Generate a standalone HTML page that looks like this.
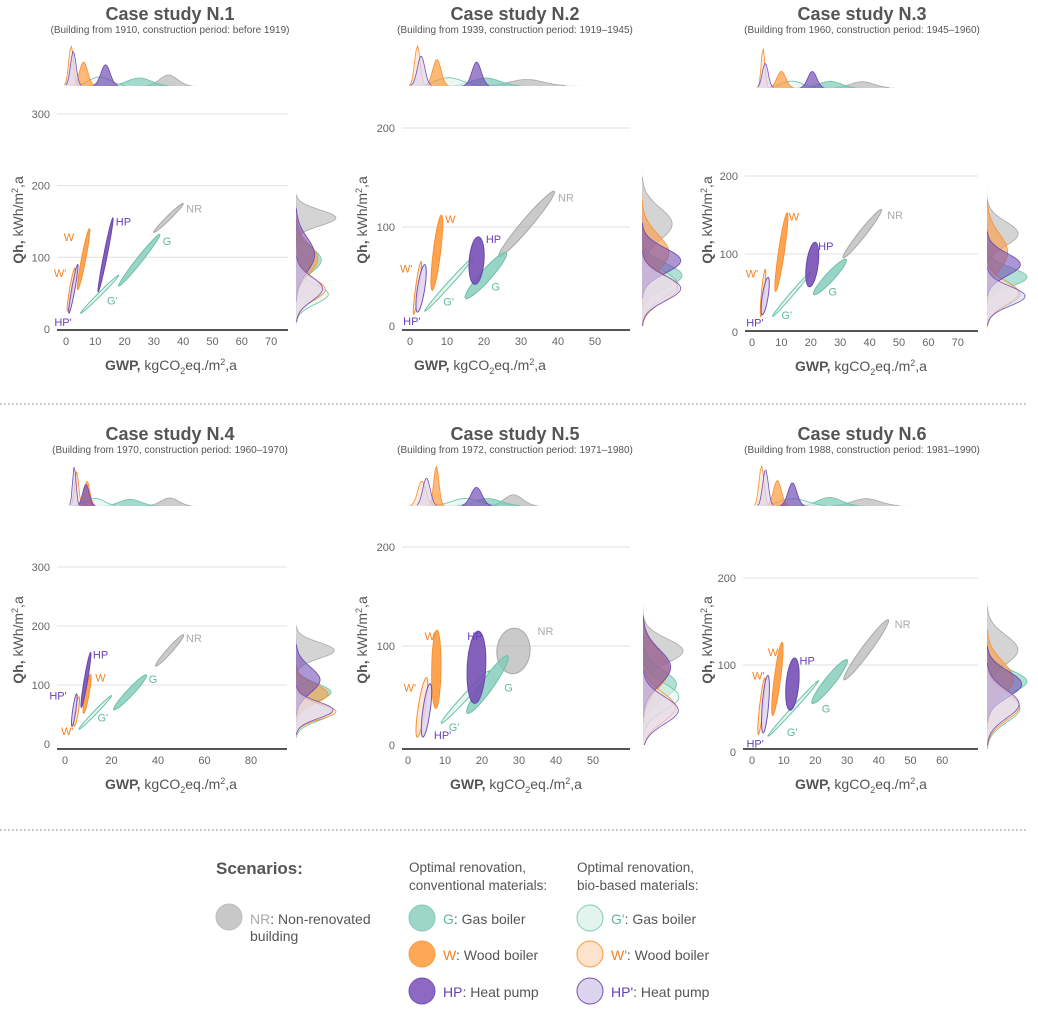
<!DOCTYPE html>
<html><head><meta charset="utf-8"><style>
html,body{margin:0;padding:0;background:#fff;}
svg{display:block;font-family:"Liberation Sans",Arial,sans-serif;}
</style></head><body>
<svg id="fig" width="1038" height="1010" viewBox="0 0 1038 1010" xmlns="http://www.w3.org/2000/svg">
<line x1="0" y1="404" x2="1028" y2="404" stroke="#999" stroke-width="1.2" stroke-dasharray="1.5,2.5"/>
<line x1="0" y1="830" x2="1028" y2="830" stroke="#999" stroke-width="1.2" stroke-dasharray="1.5,2.5"/>
<g>
<text x="216" y="874" font-size="17" font-weight="bold" fill="#555">Scenarios:</text>
<text x="409" y="872" font-size="13.5" fill="#555">Optimal renovation,</text>
<text x="409" y="890" font-size="13.5" fill="#555">conventional materials:</text>
<text x="577" y="872" font-size="13.5" fill="#555">Optimal renovation,</text>
<text x="577" y="890" font-size="13.5" fill="#555">bio-based materials:</text>
<circle cx="229" cy="917" r="13" fill="#c8c8c8" stroke="#bdbdbd"/>
<text x="250" y="924" font-size="14" fill="#555"><tspan fill="#aaa">NR</tspan>: Non-renovated</text>
<text x="250" y="941" font-size="14" fill="#555">building</text>
<circle cx="422" cy="918" r="13" fill="#9dd6c7" stroke="#7ecbb8"/>
<text x="443" y="924" font-size="14" fill="#555"><tspan fill="#5fb99b">G</tspan>: Gas boiler</text>
<circle cx="422" cy="954" r="13" fill="#fda955" stroke="#fb9a3c"/>
<text x="443" y="960" font-size="14" fill="#555"><tspan fill="#f58220">W</tspan>: Wood boiler</text>
<circle cx="422" cy="991" r="13" fill="#8c6ac4" stroke="#7550b5"/>
<text x="443" y="997" font-size="14" fill="#555"><tspan fill="#6a3db8">HP</tspan>: Heat pump</text>
<circle cx="590" cy="918" r="13" fill="#e3f3ee" stroke="#7ecbb8"/>
<text x="611" y="924" font-size="14" fill="#555"><tspan fill="#5fb99b">G'</tspan>: Gas boiler</text>
<circle cx="590" cy="954" r="13" fill="#fde3cc" stroke="#fb9a3c"/>
<text x="611" y="960" font-size="14" fill="#555"><tspan fill="#f58220">W'</tspan>: Wood boiler</text>
<circle cx="590" cy="991" r="13" fill="#ddd5ee" stroke="#7550b5"/>
<text x="611" y="997" font-size="14" fill="#555"><tspan fill="#6a3db8">HP'</tspan>: Heat pump</text>
</g>
</svg>
<script>
// scenario order: NR, G, G', W, W', HP, HP'
var scenarios = ["NR","G","G'","W","W'","HP","HP'"];
var titles = ["Case study N.1","Case study N.2","Case study N.3","Case study N.4","Case study N.5","Case study N.6"];
var subtitles = ["(Building from 1910, construction period: before 1919)","(Building from 1939, construction period: 1919\u20131945)","(Building from 1960, construction period: 1945\u20131960)","(Building from 1970, construction period: 1960\u20131970)","(Building from 1972, construction period: 1971\u20131980)","(Building from 1988, construction period: 1981\u20131990)"];
var xTicks = [[0,10,20,30,40,50,60,70],[0,10,20,30,40,50],[0,10,20,30,40,50,60,70],[0,20,40,60,80],[0,10,20,30,40,50],[0,10,20,30,40,50,60]];
var yTicks = [[0,100,200,300],[0,100,200],[0,100,200],[0,100,200,300],[0,100,200],[0,100,200]];
// cluster extents per panel: [gwp1, qh1, gwp2, qh2, width(gwp)]
var clusters1 = [[30,135,40,175,2],[18,60,32,132,2.5],[5,22,18,75,1.5],[4,55,8,140,1.5],[0.5,25,3,85,0.8],[11,52,16,155,1.2],[1,22,4,90,0.8]];
var clusters2 = [[24,70,39,136,3.5],[15,28,26,74,4],[4,15,17,69,1.5],[6,36,8.5,112,2],[1,12,3,65,1],[17.5,42,18.5,90,4],[2,14,4,62,2]];
var clusters3 = [[31,95,44,157,3],[21,48,32,93,4],[7,20,20,77,1.5],[8,52,12,153,2],[3,20,4.5,80,1],[19.5,58,21.5,115,4],[3.5,22,5.5,70,2]];
var clusters4 = [[39,132,51,185,3],[21,58,35,117,4],[6,25,20,82,1.5],[8,52,11,118,1.8],[4,30,6,80,1.5],[7,62,11,155,1.5],[3,30,5,85,1]];
var clusters5 = [[28,72,29,118,9],[16,32,27,90,4],[9,22,22,75,2],[7.5,37,7.8,116,2.5],[2.5,8,5,68,2],[18,42,19,115,5],[4,8,6,62,2]];
var clusters6 = [[29,83,43,152,3.5],[19,56,30,106,4],[5,18,21,82,1.5],[6.5,42,9.5,126,2],[2,20,4,85,1.2],[12,48,13.5,108,4],[3.5,22,5,88,2]];
// label anchor positions per panel [gwp, qh]
var labels1 = [[41,168],[33,123],[14,40],[1,128],[-2,78],[17,150],[-1,10]];
var labels2 = [[40,130],[22,40],[9,25],[9.5,108],[-1,58],[20.5,88],[0.5,5]];
var labels3 = [[46,150],[26,52],[10,22],[12.5,148],[0,75],[22.5,110],[1,12]];
var labels4 = [[52,180],[36,110],[14,45],[13,113],[1,22],[12,152],[-3,82]];
var labels5 = [[35,115],[26,58],[11,18],[4.5,110],[0.5,58],[16,110],[7,10]];
var labels6 = [[45,147],[22,50],[11,23],[5,115],[2,88],[15,105],[1,10]];
var allClusters = [clusters1,clusters2,clusters3,clusters4,clusters5,clusters6];
var allLabels = [labels1,labels2,labels3,labels4,labels5,labels6];

// layout (pixels) per panel
var layout = [
 {x0:66,xs:2.93,y0:329,ys:0.717,axY:330,ax:[57,288],top:86,right:296,cx:170,ty:20,xt:171,ytx:18,ytc:220},
 {x0:410,xs:3.7,y0:326,ys:0.99,axY:330,ax:[402,630],top:86,right:642,cx:515,ty:20,xt:480,ytx:362,ytc:220},
 {x0:752,xs:2.94,y0:332,ys:0.78,axY:331,ax:[745,978],top:88,right:987,cx:862,ty:20,xt:861,ytx:707,ytc:220},
 {x0:65,xs:2.325,y0:744,ys:0.59,axY:749,ax:[57,287],top:506,right:296,cx:170,ty:440,xt:171,ytx:18,ytc:640},
 {x0:408,xs:3.7,y0:745,ys:0.99,axY:749,ax:[402,630],top:506,right:643,cx:515,ty:440,xt:516,ytx:362,ytc:640},
 {x0:752,xs:3.17,y0:752,ys:0.87,axY:749,ax:[743,978],top:506,right:987,cx:862,ty:440,xt:861,ytx:707,ytc:640}
];
var fills = ["#b8b8b8","#7ecbb8","#e3f3ee","#fd9a3f","#fde3cc","#7550b5","#ddd5ee"];
var strokes = ["#a8a8a8","#6cc0a8","#66c2a5","#fb9030","#fb8c2a","#6a45b0","#7550b5"];
var fillOp = [0.75,0.8,0.85,0.9,0.75,0.9,0.85];
var labelCol = ["#aaaaaa","#5fb99b","#5fb99b","#f58220","#f58220","#6a3db8","#6a3db8"];
var NS = "http://www.w3.org/2000/svg";
var svg = document.getElementById('fig');
function mk(tag, attrs, parent){var e=document.createElementNS(NS,tag);for(var k in attrs)e.setAttribute(k,attrs[k]);(parent||svg).appendChild(e);return e;}

layout.forEach(function(L,pi){
  var sx=function(v){return L.x0+v*L.xs;};
  var sy=function(v){return L.y0-v*L.ys;};
  var g=mk('g',{});
  
  
  var t=mk('text',{x:L.cx,y:L.ty,'text-anchor':'middle','font-size':18,'font-weight':'bold',fill:'#555'},g);
  t.textContent=titles[pi];
  
  
  var st=mk('text',{x:L.cx,y:L.ty+13,'text-anchor':'middle','font-size':10,fill:'#555'},g);
  st.textContent=subtitles[pi];
  
  
  yTicks[pi].forEach(function(v){
    var y=sy(v);
    if(v>0){var gl=mk('line',{x1:L.ax[0],x2:L.ax[1],y1:y,y2:y,stroke:'#e0e0e0','stroke-width':1},g);
      
      }
    var tl=mk('text',{x:L.ax[0]-7,y:y+4,'text-anchor':'end','font-size':11,fill:'#666'},g);
    tl.textContent=v;
    
    
  });
  xTicks[pi].forEach(function(v){
    var tl=mk('text',{x:sx(v),y:L.axY+15,'text-anchor':'middle','font-size':11,fill:'#666'},g);
    tl.textContent=v;
    
    
  });
  var cl=allClusters[pi];
  var stats=cl.map(function(c){
    return {mx:(c[0]+c[2])/2, sdx:Math.max(Math.abs(c[2]-c[0])/4+c[4]/4,0.35),
            my:(c[1]+c[3])/2, sdy:Math.abs(c[3]-c[1])/5+3};
  });
  var tg=mk('g',{},g);
  
  
  var rg=mk('g',{},g);
  
  
  var maxTop=0,maxR=0;
  stats.forEach(function(s){maxTop=Math.max(maxTop,1/s.sdx);maxR=Math.max(maxR,1/s.sdy);});
  var xmax=(L.ax[1]-L.x0)/L.xs, ymaxD=(L.y0-(L.ty+95))/L.ys;
  stats.forEach(function(s,i){
    var c='',cs='',on=false;
    for(var k=0;k<=160;k++){var v=-1+(xmax+1)*k/160;var h=40*(1/s.sdx)/maxTop*Math.exp(-0.5*Math.pow((v-s.mx)/s.sdx,2));
      var pt=sx(v).toFixed(1)+','+(L.top-h).toFixed(1);
      c+=(k?'L':'M')+pt;
      if(h>0.4){cs+=(on?'L':'M')+pt;on=true;}else on=false;}
    var p=mk('path',{d:c+'L'+sx(xmax).toFixed(1)+','+L.top+'L'+sx(-1).toFixed(1)+','+L.top+'Z',fill:fills[i],'fill-opacity':0.7,stroke:'none'},tg);
    
    
    if(cs){var pl=mk('path',{d:cs,fill:'none',stroke:strokes[i],'stroke-width':0.8},tg);
    
    }
    var c2='',cs2='',on2=false;
    for(var k2=0;k2<=160;k2++){var v2=ymaxD*k2/160;var w=40*(1/s.sdy)/maxR*Math.exp(-0.5*Math.pow((v2-s.my)/s.sdy,2));
      var pt2=(L.right+w).toFixed(1)+','+sy(v2).toFixed(1);
      c2+=(k2?'L':'M')+pt2;
      if(w>0.4){cs2+=(on2?'L':'M')+pt2;on2=true;}else on2=false;}
    var p2=mk('path',{d:c2+'L'+L.right+','+sy(ymaxD).toFixed(1)+'L'+L.right+','+sy(0).toFixed(1)+'Z',fill:fills[i],'fill-opacity':0.6,stroke:'none'},rg);
    
    
    if(cs2){var pl2=mk('path',{d:cs2,fill:'none',stroke:strokes[i],'stroke-width':0.8},rg);
    
    }
  });
  var cg=mk('g',{},g);
  
  
  cl.forEach(function(c,i){
    var x1=sx(c[0]),y1=sy(c[1]),x2=sx(c[2]),y2=sy(c[3]);
    var mx=(x1+x2)/2,my=(y1+y2)/2,dx=x2-x1,dy=y2-y1,len=Math.sqrt(dx*dx+dy*dy);
    var ux=dx/len,uy=dy/len,nx=-uy,ny=ux;
    var a=len/2,b=Math.max(c[4]*L.xs/2*Math.abs(uy),1.6);
    var d='';
    for(var k=0;k<=48;k++){var th=2*Math.PI*k/48;var ca=Math.cos(th),sa=Math.sin(th);
      var px=mx+a*ca*ux+b*sa*nx, py=my+a*ca*uy+b*sa*ny;
      d+=(k?'L':'M')+px.toFixed(1)+','+py.toFixed(1);}
    d+='Z';
    var p=mk('path',{d:d,fill:fills[i],'fill-opacity':fillOp[i],stroke:strokes[i],'stroke-width':1},cg);
    
    
    var lb=allLabels[pi][i];
    var tx=mk('text',{x:sx(lb[0]),y:sy(lb[1])+4,'font-size':11,fill:labelCol[i],'text-anchor':(lb[0]<3?'middle':'start')},cg);
    tx.textContent=scenarios[i];
    
    
  });
  var al=mk('line',{x1:L.ax[0],x2:L.ax[1],y1:L.axY,y2:L.axY,stroke:'#555','stroke-width':2},g);
  
  
  var xt=mk('text',{x:L.xt,y:L.axY+40,'text-anchor':'middle','font-size':14,fill:'#555'},g);
  xt.innerHTML='<tspan font-weight="bold">GWP,</tspan> kgCO<tspan font-size="9" dy="4">2</tspan><tspan dy="-4">eq./m</tspan><tspan font-size="9" dy="-5">2</tspan><tspan dy="5">,a</tspan>';
  
  
  var yt=mk('text',{x:0,y:0,'text-anchor':'middle','font-size':14,fill:'#555',transform:'translate('+(L.ytx+5)+','+L.ytc+') rotate(-90)'},g);
  yt.innerHTML='<tspan font-weight="bold">Qh,</tspan> kWh/m<tspan font-size="9" dy="-5">2</tspan><tspan dy="5">,a</tspan>';
  
  
});
</script>
</body></html>
